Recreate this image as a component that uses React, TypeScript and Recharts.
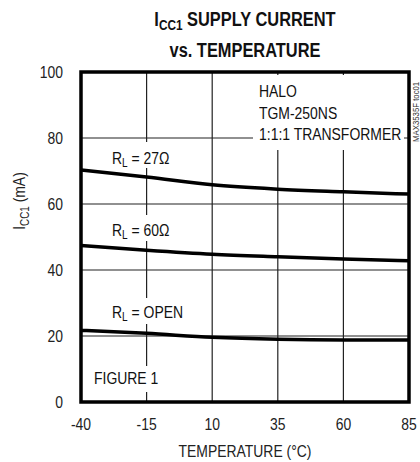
import React from 'react';
import { LineChart, Line, XAxis, YAxis, CartesianGrid, ReferenceArea } from 'recharts';

const temps = [-40, -15, 10, 35, 60, 85];
const rl27 = [70.3, 68.2, 65.8, 64.5, 63.7, 63.0];
const rl60 = [47.4, 46.0, 44.8, 44.0, 43.3, 42.8];
const rlOpen = [21.7, 20.8, 19.6, 19.0, 18.8, 18.8];
const yTicks = [0, 20, 40, 60, 80, 100];

const data = temps.map((t, i) => ({ t, a: rl27[i], b: rl60[i], c: rlOpen[i] }));

const FONT = '"Liberation Sans", Arial, sans-serif';
const SQ = 0.82; // horizontal squeeze to mimic a condensed face
const FS = 17;

const Sub: React.FC<{ children: React.ReactNode }> = ({ children }) => (
  <span style={{ fontSize: '0.72em', verticalAlign: '-0.28em' }}>{children}</span>
);

const XTick = ({ x, y, payload }: any) => (
  <text transform={`translate(${x},${y}) scale(${SQ},1)`} textAnchor="middle" dy="0.71em" fontSize={FS} fill="#222">
    {payload.value}
  </text>
);

const YTick = ({ x, y, payload }: any) => (
  <text transform={`translate(${x},${y}) scale(${SQ},1)`} textAnchor="end" dy="0.355em" fontSize={FS} fill="#222">
    {payload.value}
  </text>
);

const XLabel = () => (
  <text transform={`translate(245,457) scale(${SQ},1)`} textAnchor="middle" fontSize={FS} fill="#222">
    TEMPERATURE (°C)
  </text>
);

const YLabel = () => (
  <text transform={`translate(25,201) rotate(-90) scale(${SQ},1)`} textAnchor="middle" fontSize={FS} fill="#222">
    I<tspan fontSize={12} dy={4}>CC1</tspan>
    <tspan dy={-4}> (mA)</tspan>
  </text>
);

const note = (left: number, top: number, w: number, h: number): React.CSSProperties => ({
  position: 'absolute',
  left,
  top,
  width: w,
  height: h,
  background: '#fff',
  fontSize: FS,
  lineHeight: '21.5px',
  color: '#111',
  whiteSpace: 'nowrap',
  overflow: 'visible',
});

const squeeze: React.CSSProperties = { transform: `scaleX(${SQ})`, transformOrigin: 'left top' };

export default function App() {
  return (
    <div style={{ position: 'absolute', left: 0, top: 0, width: 420, height: 462, background: '#fff', fontFamily: FONT }}>
      <div
        style={{
          position: 'absolute',
          left: 35,
          width: 420,
          top: 7,
          textAlign: 'center',
          fontWeight: 'bold',
          fontSize: 20,
          lineHeight: '25px',
          color: '#111',
          transform: `scaleX(${SQ})`,
          transformOrigin: 'center top',
        }}
      >
        I<Sub>CC1</Sub> SUPPLY CURRENT
        <br />
        vs. TEMPERATURE
      </div>
      <LineChart width={420} height={462} data={data} margin={{ top: 72, right: 11, left: 0, bottom: 0 }}>
        <CartesianGrid stroke="#222" strokeWidth={1.2} />
        <XAxis
          dataKey="t"
          type="number"
          domain={[-40, 85]}
          ticks={temps}
          height={60}
          axisLine={false}
          tickLine={false}
          tickSize={0}
          tickMargin={16}
          tick={<XTick />}
          label={<XLabel />}
        />
        <YAxis
          type="number"
          domain={[0, 100]}
          ticks={yTicks}
          width={81}
          axisLine={false}
          tickLine={false}
          tickSize={0}
          tickMargin={18}
          tick={<YTick />}
          label={<YLabel />}
        />
        <ReferenceArea x1={-40} x2={85} y1={0} y2={100} fill="none" stroke="#000" strokeWidth={3.5} ifOverflow="visible" />
        <Line type="monotone" dataKey="a" stroke="#000" strokeWidth={3.5} dot={false} isAnimationActive={false} />
        <Line type="monotone" dataKey="b" stroke="#000" strokeWidth={3.5} dot={false} isAnimationActive={false} />
        <Line type="monotone" dataKey="c" stroke="#000" strokeWidth={3.5} dot={false} isAnimationActive={false} />
      </LineChart>
      <div style={note(253, 75, 151, 75)}>
        <div style={{ ...squeeze, position: 'absolute', left: 6, top: 6 }}>
          HALO
          <br />
          TGM-250NS
          <br />
          1:1:1 TRANSFORMER
        </div>
      </div>
      <div style={note(108, 142, 68, 26)}>
        <div style={{ ...squeeze, position: 'absolute', left: 4, top: 6 }}>
          R<Sub>L</Sub> = 27Ω
        </div>
      </div>
      <div style={note(108, 215, 68, 26)}>
        <div style={{ ...squeeze, position: 'absolute', left: 4, top: 5 }}>
          R<Sub>L</Sub> = 60Ω
        </div>
      </div>
      <div style={note(108, 298, 76, 26)}>
        <div style={{ ...squeeze, position: 'absolute', left: 4, top: 4 }}>
          R<Sub>L</Sub> = OPEN
        </div>
      </div>
      <div style={note(90, 366, 68, 26)}>
        <div style={{ ...squeeze, position: 'absolute', left: 4, top: 2 }}>FIGURE 1</div>
      </div>
      <div
        style={{
          position: 'absolute',
          left: 411,
          top: 142,
          fontSize: 9.5,
          lineHeight: '9px',
          color: '#333',
          transform: `rotate(-90deg) scaleX(${SQ})`,
          transformOrigin: 'left top',
          whiteSpace: 'nowrap',
        }}
      >
        MAX3535F toc01
      </div>
    </div>
  );
}
